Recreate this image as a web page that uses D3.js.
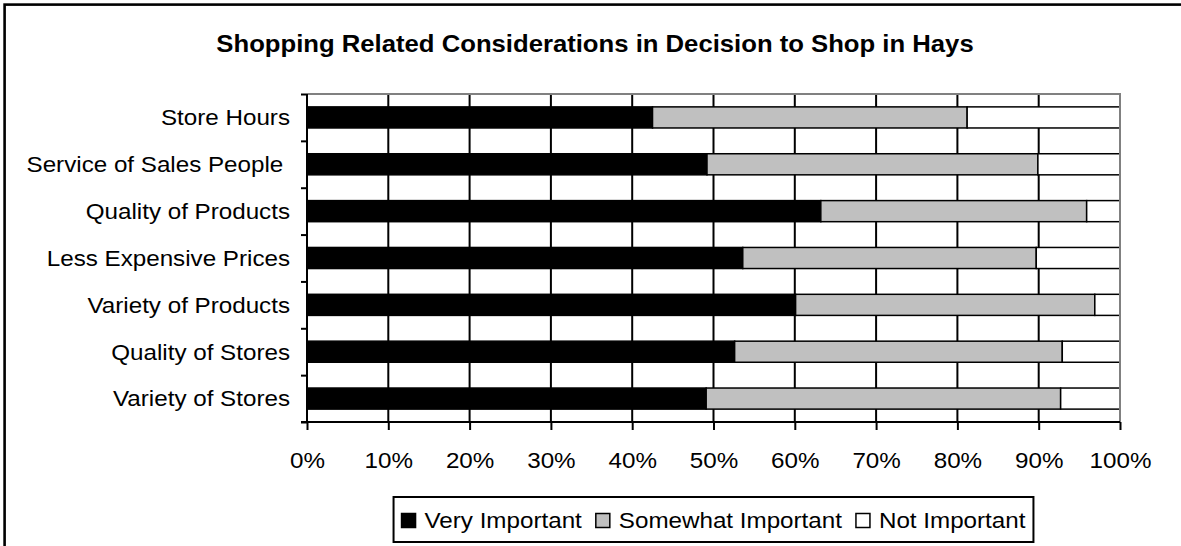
<!DOCTYPE html>
<html>
<head>
<meta charset="utf-8">
<script src="https://cdn.jsdelivr.net/npm/d3@7"></script>
<style>
  body { margin: 0; background: #fff; }
  svg { display: block; font-family: "Liberation Sans", Arial, sans-serif; }
</style>
</head>
<body>
<div id="chart"></div>
<script>
// data (percent of respondents)
var categories = ['Store Hours', 'Service of Sales People ', 'Quality of Products',
  'Less Expensive Prices', 'Variety of Products', 'Quality of Stores', 'Variety of Stores']
var seriesNames = ['Very Important', 'Somewhat Important', 'Not Important']
var veryImportant = [42.5, 49.2, 63.2, 53.6, 60.1, 52.6, 49.1]
var somewhatImportant = [38.7, 40.7, 32.7, 36.1, 36.8, 40.3, 43.6]
var notImportant = [18.8, 10.1, 4.1, 10.3, 3.1, 7.1, 7.3]
var xTicks = [0, 10, 20, 30, 40, 50, 60, 70, 80, 90, 100]
var colors = ['#000000', '#c0c0c0', '#ffffff']

var svgWidth = 1181
var svgHeight = 546
var sx = 1.1 // text in the original is a little wider than tall

var margin = { top: 94, left: 307, right: 61, bottom: 124 }
var width = svgWidth - margin.left - margin.right
var height = svgHeight - margin.top - margin.bottom

var svg = d3.select('#chart')
  .append('svg')
  .attr('width', svgWidth)
  .attr('height', svgHeight)

// outer chart border (cut off at right and bottom)
svg.append('rect')
  .attr('x', 4.6).attr('y', 4.6)
  .attr('width', 1300).attr('height', 700)
  .attr('fill', 'none')
  .attr('stroke', '#000')
  .attr('stroke-width', 2.6)

// title
svg.append('text')
  .attr('transform', 'translate(595,52) scale(1.07,1)')
  .attr('text-anchor', 'middle')
  .style('font-size', '24px')
  .style('font-weight', 'bold')
  .text('Shopping Related Considerations in Decision to Shop in Hays')

var chartGroup = svg.append('g')
  .attr('transform', `translate(${margin.left}, ${margin.top})`)

var xScale = d3.scaleLinear().domain([0, 100]).range([0, width])
var yScale = d3.scaleBand()
  .domain(categories)
  .range([0, height])
  .paddingInner(0.55)
  .paddingOuter(0.275)
var yEdges = d3.scaleLinear().domain([0, categories.length]).range([0, height])

// vertical gridlines
chartGroup.append('g')
  .selectAll('line')
  .data(xTicks.filter(d => d > 0 && d < 100))
  .enter()
  .append('line')
  .attr('x1', d => xScale(d)).attr('x2', d => xScale(d))
  .attr('y1', 0).attr('y2', height)
  .attr('stroke', '#000')
  .attr('stroke-width', 2)

// stack the three series
var rows = categories.map(function(c, i) {
  return { cat: c, 0: veryImportant[i], 1: somewhatImportant[i], 2: notImportant[i] }
})
var stacked = d3.stack().keys([0, 1, 2])(rows)

chartGroup.selectAll('.series')
  .data(stacked)
  .enter()
  .append('g')
  .attr('fill', (d, i) => colors[i])
  .selectAll('rect')
  .data(d => d)
  .enter()
  .append('rect')
  .attr('x', d => xScale(d[0]))
  .attr('y', d => yScale(d.data.cat))
  .attr('width', d => xScale(d[1]) - xScale(d[0]))
  .attr('height', yScale.bandwidth())
  .attr('stroke', '#000')
  .attr('stroke-width', 1.5)

// top and right plot border in grey
chartGroup.append('path')
  .attr('d', `M0,0H${width}V${height}`)
  .attr('fill', 'none')
  .attr('stroke', '#808080')
  .attr('stroke-width', 2)

// left axis: ticks at category edges
chartGroup.append('g')
  .call(d3.axisLeft(yEdges).ticks(categories.length).tickSize(6).tickFormat(''))
  .call(g => g.selectAll('line, path').attr('stroke', '#000').attr('stroke-width', 2))
  .call(g => g.select('.domain').attr('d', `M0,0V${height}`))

// category labels
chartGroup.append('g')
  .call(d3.axisLeft(yScale).tickSize(0).tickPadding(0))
  .call(g => g.select('.domain').remove())
  .call(g => g.selectAll('text')
    .attr('x', -17 / sx)
    .attr('dy', '0.36em')
    .attr('transform', `scale(${sx},1)`)
    .attr('xml:space', 'preserve')
    .style('white-space', 'pre')
    .style('font-size', '22px')
    .style('font-family', '"Liberation Sans", Arial, sans-serif')
    .attr('fill', '#000'))

// bottom axis
chartGroup.append('g')
  .attr('transform', `translate(0, ${height})`)
  .call(d3.axisBottom(xScale).tickValues(xTicks).tickFormat(d => d + '%').tickSize(8).tickPadding(22.4))
  .call(g => g.selectAll('line').attr('stroke', '#000').attr('stroke-width', 2))
  .call(g => g.select('.domain').attr('stroke', '#000').attr('stroke-width', 2).attr('d', `M-6,0H${width}`))
  .call(g => g.selectAll('text')
    .attr('transform', `scale(${sx},1)`)
    .style('font-size', '22px')
    .style('font-family', '"Liberation Sans", Arial, sans-serif')
    .attr('fill', '#000'))

// legend
var legend = svg.append('g')
var legendBox = legend.append('rect')
  .attr('fill', '#fff')
  .attr('stroke', '#000')
  .attr('stroke-width', 2)
var items = legend.selectAll('.item')
  .data(seriesNames)
  .enter()
  .append('g')
items.append('rect')
  .attr('width', 14).attr('height', 14)
  .attr('y', -14.5)
  .attr('fill', (d, i) => colors[i])
  .attr('stroke', '#000')
  .attr('stroke-width', 1.5)
items.append('text')
  .attr('x', 23 / sx)
  .attr('transform', `scale(${sx},1)`)
  .style('font-size', '22px')
  .text(d => d)

var pos = 0
items.each(function(d) {
  var w = d3.select(this).select('text').node().getComputedTextLength() * sx
  d3.select(this).attr('transform', `translate(${pos},0)`)
  pos += 23 + w + 14
})
var contentW = pos - 14
var legendLeft = margin.left + width / 2 - contentW / 2
legend.attr('transform', `translate(${legendLeft}, 528)`)
legendBox.attr('x', -8).attr('y', -31).attr('width', contentW + 16).attr('height', 45)
</script>
</body>
</html>
